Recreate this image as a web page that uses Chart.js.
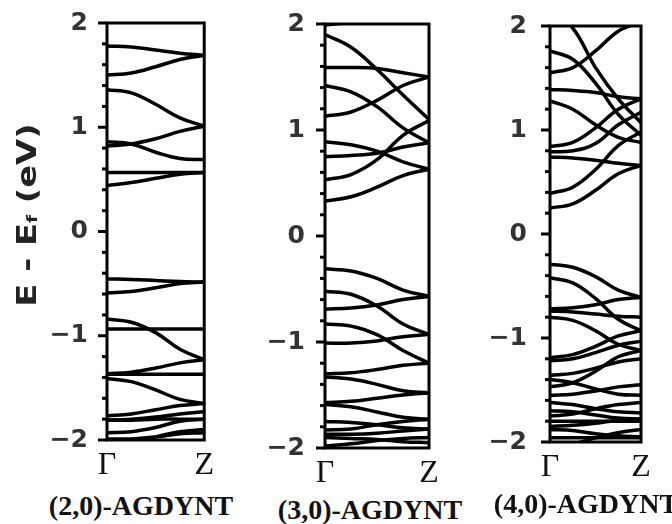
<!DOCTYPE html>
<html>
<head>
<meta charset="utf-8">
<script src="https://cdn.jsdelivr.net/npm/chart.js@4"></script>
<style>
  body { margin: 0; background: #fff; }
  #wrap { position: relative; width: 672px; height: 524px; overflow: hidden; }
  canvas { position: absolute; }
  .ylab { position: absolute; left: -74px; top: 200px; width: 200px; height: 30px; line-height: 30px;
    text-align: center; font: bold 27px 'DejaVu Sans', sans-serif; color: #222;
    transform: rotate(-90deg) scaleX(1.25); white-space: nowrap; }
  .ylab sub { font-size: 55%; vertical-align: -0.1em; }
  .name { position: absolute; top: 490px; font: bold 28px 'Liberation Serif', serif; color: #111;
    white-space: nowrap; transform: translateX(-50%); }
</style>
</head>
<body>
<div id="wrap">
  <canvas id="p20" width="220" height="491" style="left:0px; top:-11px"></canvas>
  <canvas id="p30" width="230" height="499" style="left:215px; top:-11px"></canvas>
  <canvas id="p40" width="220" height="494" style="left:440px; top:-12px"></canvas>
  <div class="ylab">E - E<sub>f</sub> (eV)</div>
  <div class="name" style="left:141px">(2,0)-AGDYNT</div>
  <div class="name" style="left:370px; top:494px">(3,0)-AGDYNT</div>
  <div class="name" style="left:586px; top:488px">(4,0)-AGDYNT</div>
</div>
<script>
// k path sampled at these points, Γ -> Z
const kPoints = [0, 0.25, 0.5, 0.75, 1]
const kLabels = ['Γ', 'Z']
const energyTicks = [-2, -1, 0, 1, 2]

// (2,0)-AGDYNT bands, eV
const bands20 = [
  [1.78, 1.77, 1.74, 1.71, 1.69],
  [1.50, 1.52, 1.58, 1.65, 1.69],
  [1.36, 1.33, 1.22, 1.09, 1.01],
  [0.82, 0.84, 0.89, 0.96, 1.01],
  [0.86, 0.84, 0.76, 0.70, 0.69],
  [0.565, 0.565, 0.565, 0.565, 0.565],
  [0.44, 0.47, 0.51, 0.55, 0.565],
  [-0.455, -0.46, -0.47, -0.48, -0.485],
  [-0.59, -0.575, -0.54, -0.50, -0.485],
  [-0.84, -0.87, -0.97, -1.13, -1.23],
  [-0.935, -0.935, -0.935, -0.935, -0.935],
  [-1.365, -1.35, -1.31, -1.26, -1.23],
  [-1.37, -1.37, -1.37, -1.37, -1.37],
  [-1.41, -1.44, -1.52, -1.61, -1.65],
  [-1.77, -1.75, -1.71, -1.67, -1.65],
  [-1.81, -1.80, -1.78, -1.75, -1.73],
  [-1.81, -1.81, -1.80, -1.80, -1.80],
  [-1.93, -1.92, -1.88, -1.82, -1.80],
  [-2.06, -2.02, -1.97, -1.92, -1.90],
  [-1.99, -1.99, -1.97, -1.94, -1.93],
]

// (3,0)-AGDYNT bands, eV
const bands30 = [
  [1.99, 2.02, 2.08, 2.15, 2.2],
  [1.90, 1.78, 1.57, 1.33, 1.10],
  [1.59, 1.59, 1.58, 1.54, 1.50],
  [1.42, 1.36, 1.22, 1.02, 0.88],
  [1.13, 1.17, 1.28, 1.42, 1.50],
  [0.89, 0.86, 0.80, 0.70, 0.63],
  [0.75, 0.76, 0.78, 0.84, 0.88],
  [0.53, 0.58, 0.72, 0.95, 1.09],
  [0.33, 0.37, 0.46, 0.57, 0.63],
  [-0.31, -0.33, -0.40, -0.51, -0.57],
  [-0.69, -0.68, -0.65, -0.60, -0.57],
  [-0.52, -0.55, -0.66, -0.83, -0.93],
  [-0.83, -0.85, -0.93, -1.08, -1.20],
  [-1.01, -1.01, -0.99, -0.95, -0.93],
  [-1.30, -1.29, -1.26, -1.22, -1.20],
  [-1.33, -1.35, -1.40, -1.46, -1.48],
  [-1.57, -1.56, -1.53, -1.50, -1.48],
  [-1.59, -1.61, -1.66, -1.71, -1.73],
  [-1.75, -1.76, -1.78, -1.81, -1.82],
  [-1.83, -1.82, -1.78, -1.75, -1.73],
  [-1.90, -1.91, -1.92, -1.94, -1.95],
  [-1.98, -1.96, -1.93, -1.91, -1.90],
  [-1.87, -1.87, -1.86, -1.84, -1.82],
]

// (4,0)-AGDYNT bands, eV
const bands40 = [
  [2.15, 1.98, 1.60, 1.30, 1.07],
  [1.76, 1.68, 1.45, 1.15, 0.95],
  [1.55, 1.60, 1.76, 1.95, 2.04],
  [1.39, 1.38, 1.36, 1.32, 1.30],
  [1.28, 1.20, 1.05, 0.93, 0.88],
  [0.84, 0.88, 1.02, 1.20, 1.30],
  [0.79, 0.80, 0.87, 1.05, 1.17],
  [0.74, 0.73, 0.71, 0.68, 0.66],
  [0.39, 0.45, 0.62, 0.85, 0.98],
  [0.25, 0.29, 0.42, 0.58, 0.66],
  [-0.29, -0.32, -0.41, -0.54, -0.61],
  [-0.42, -0.47, -0.62, -0.82, -0.93],
  [-0.72, -0.71, -0.68, -0.63, -0.61],
  [-0.74, -0.75, -0.77, -0.79, -0.80],
  [-0.80, -0.83, -0.93, -1.06, -1.12],
  [-1.19, -1.16, -1.08, -0.98, -0.93],
  [-1.22, -1.20, -1.14, -1.07, -1.03],
  [-1.36, -1.34, -1.29, -1.23, -1.20],
  [-1.40, -1.43, -1.49, -1.54, -1.55],
  [-1.47, -1.43, -1.32, -1.18, -1.12],
  [-1.55, -1.54, -1.51, -1.47, -1.45],
  [-1.62, -1.64, -1.68, -1.71, -1.72],
  [-1.75, -1.73, -1.68, -1.64, -1.62],
  [-1.80, -1.80, -1.80, -1.80, -1.80],
  [-1.85, -1.84, -1.82, -1.79, -1.78],
  [-1.70, -1.71, -1.74, -1.77, -1.78],
  [-1.88, -1.89, -1.92, -1.94, -1.95],
  [-1.96, -1.96, -1.96, -1.96, -1.96],
  [-2.05, -2.02, -1.96, -1.91, -1.88],
]

// box around the plot + outward ticks on the left (major 1 eV, minor 0.2 eV)
const frameAndTicks = {
  id: 'frameAndTicks',
  afterDatasetsDraw(chart) {
    const { ctx, chartArea: a, scales: { y } } = chart
    ctx.save()
    ctx.strokeStyle = '#000'
    ctx.lineWidth = 3
    ctx.strokeRect(a.left, a.top, a.right - a.left, a.bottom - a.top)
    y.ticks.forEach((t) => {
      const py = y.getPixelForValue(t.value)
      const major = energyTicks.some((e) => Math.abs(e - t.value) < 1e-6)
      ctx.beginPath()
      ctx.moveTo(a.left - (major ? 9 : 5), py)
      ctx.lineTo(a.left, py)
      ctx.stroke()
    })
    ctx.restore()
  },
}

function printBands(id, bands, yWidth, padRight, labelPad) {
  const ctx = document.getElementById(id)
  return new Chart(ctx, {
    type: 'line',
    data: {
      datasets: bands.map((vals) => ({
        data: vals.map((v, i) => ({ x: kPoints[i], y: v })),
        borderColor: '#000',
        borderWidth: 3.5,
        pointRadius: 0,
        tension: 0.4,
        fill: false,
      })),
    },
    options: {
      responsive: false,
      animation: false,
      events: [],
      layout: { padding: { left: 0, right: padRight, top: 0, bottom: 0 } },
      plugins: { legend: { display: false }, tooltip: { enabled: false } },
      scales: {
        x: {
          type: 'linear',
          min: 0,
          max: 1,
          grid: { display: false, drawTicks: false },
          border: { display: false },
          afterFit: (s) => { s.height = 40 },
          afterBuildTicks: (s) => { s.ticks = kPoints.filter((k) => k === 0 || k === 1).map((k) => ({ value: k })) },
          ticks: {
            padding: 6,
            color: '#111',
            font: { family: "'Liberation Serif', serif", size: 32 },
            callback: (v) => kLabels[v],
          },
        },
        y: {
          min: -2,
          max: 2,
          grid: { display: false, drawTicks: false },
          border: { display: false },
          afterFit: (s) => { s.width = yWidth },
          ticks: {
            stepSize: 0.2,
            autoSkip: false,
            padding: labelPad,
            color: '#333',
            font: { family: "'DejaVu Sans', sans-serif", size: 25, weight: 'bold' },
            callback: (v) => {
              const e = energyTicks.find((t) => Math.abs(t - v) < 1e-6)
              if (e === undefined) return ''
              return e < 0 ? '\u2212' + Math.abs(e) : String(e)
            },
          },
        },
      },
    },
    plugins: [frameAndTicks],
  })
}

printBands('p20', bands20, 107, 12, 19)
printBands('p30', bands30, 110, 16, 20)
printBands('p40', bands40, 110, 19, 23)
</script>
</body>
</html>
